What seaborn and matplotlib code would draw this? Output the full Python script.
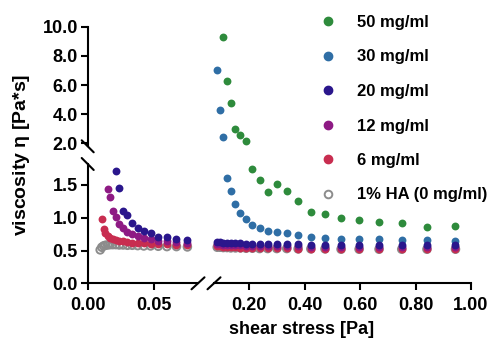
import numpy as np
import pandas as pd
import seaborn as sns
import matplotlib.pyplot as plt
import matplotlib.ticker as ticker
from matplotlib.lines import Line2D

# shear stress steps [Pa] (shared by all samples)
stress = [0.0094, 0.0106, 0.0119, 0.0133, 0.0150, 0.0168, 0.0188, 0.0211, 0.0237, 0.0266,
          0.0299, 0.0335, 0.0376, 0.0422, 0.0473, 0.0531, 0.0596, 0.0668, 0.0750, 0.0841,
          0.0944, 0.106, 0.119, 0.133, 0.150, 0.168, 0.188, 0.211, 0.237, 0.266,
          0.299, 0.335, 0.376, 0.422, 0.473, 0.531, 0.596, 0.668, 0.750, 0.841, 0.944]

# viscosity [Pa*s], each series covers the last len() stress steps
visc_50 = [9.27, 6.25, 4.75, 2.96, 2.60, 2.18, 1.74, 1.57, 1.39, 1.52,
           1.41, 1.25, 1.09, 1.06, 0.99, 0.96, 0.94, 0.92, 0.855, 0.875]
visc_30 = [7.0, 4.3, 2.45, 1.61, 1.41, 1.21, 1.08, 0.98, 0.89, 0.85, 0.80,
           0.78, 0.76, 0.73, 0.70, 0.69, 0.68, 0.67, 0.67, 0.66, 0.66, 0.65]
visc_20 = [1.72, 1.45, 1.10, 1.04, 0.92, 0.85, 0.80, 0.76, 0.71, 0.70, 0.68, 0.66,
           0.63, 0.625, 0.62, 0.62, 0.615, 0.61, 0.61, 0.605, 0.605, 0.60, 0.60,
           0.60, 0.595, 0.595, 0.59, 0.59, 0.59, 0.59, 0.585, 0.585, 0.585, 0.585]
visc_12 = [1.44, 1.31, 1.11, 1.01, 0.91, 0.84, 0.79, 0.75, 0.72, 0.69, 0.67, 0.65,
           0.64, 0.63, 0.62,
           0.60, 0.595, 0.59, 0.59, 0.585, 0.58, 0.58, 0.575, 0.575, 0.57, 0.57,
           0.57, 0.565, 0.565, 0.56, 0.56, 0.56, 0.56, 0.555, 0.555, 0.555, 0.555]
visc_6 = [0.98, 0.83, 0.76, 0.72, 0.69, 0.67, 0.66, 0.65, 0.64, 0.63, 0.62, 0.615,
          0.61, 0.605, 0.60, 0.595, 0.59, 0.585,
          0.57, 0.565, 0.56, 0.555, 0.55, 0.55, 0.545, 0.545, 0.54, 0.54, 0.535,
          0.535, 0.535, 0.53, 0.53, 0.53, 0.53, 0.525, 0.525, 0.525, 0.525, 0.525]
visc_0 = [0.51, 0.55, 0.57, 0.58, 0.585, 0.59, 0.59, 0.59, 0.585, 0.585, 0.58, 0.58,
          0.575, 0.57, 0.57, 0.565, 0.56, 0.56, 0.555,
          0.55, 0.55, 0.545, 0.545, 0.54, 0.54, 0.54, 0.535, 0.535, 0.53, 0.53,
          0.53, 0.53, 0.525, 0.525, 0.525, 0.52, 0.52, 0.52, 0.52, 0.52, 0.52]

labels = ["50 mg/ml", "30 mg/ml", "20 mg/ml", "12 mg/ml", "6 mg/ml", "1% HA (0 mg/ml)"]
series = [visc_50, visc_30, visc_20, visc_12, visc_6, visc_0]
colors = ["#2E8B3C", "#2F6EA5", "#2A168C", "#8E1A84", "#C82D50", "#8C8C8C"]

frames = []
for lab, v in zip(labels, series):
    frames.append(pd.DataFrame({"stress": stress[-len(v):], "visc": v, "sample": lab}))
df = pd.concat(frames, ignore_index=True)

sns.set_style("ticks")
plt.rcParams['font.family'] = ['Liberation Sans', 'DejaVu Sans']
plt.rcParams['font.weight'] = 'bold'
plt.rcParams['mathtext.fontset'] = 'custom'
plt.rcParams['mathtext.rm'] = 'Liberation Sans'
plt.rcParams['axes.edgecolor'] = 'black'
plt.rcParams['axes.linewidth'] = 1.5
plt.rcParams['xtick.color'] = 'black'
plt.rcParams['ytick.color'] = 'black'
plt.rcParams['text.color'] = 'black'

W, H = 493, 346
fig = plt.figure(figsize=(W / 100, H / 100), dpi=100)


def px_axes(x0, x1, y0, y1):
    # pixel box measured from the top-left corner
    return fig.add_axes([x0 / W, 1 - y1 / H, (x1 - x0) / W, (y1 - y0) / H])


ax_ll = px_axes(87.7, 198, 164, 283.3)
ax_lr = px_axes(214, 471, 164, 283.3)
ax_ul = px_axes(87.7, 198, 26.7, 146.3)
ax_ur = px_axes(214, 471, 26.7, 146.3)

panels = [
    (ax_ll, (df.stress < 0.08) & (df.visc < 1.9)),
    (ax_lr, (df.stress > 0.08) & (df.visc < 1.9)),
    (ax_ur, (df.stress > 0.08) & (df.visc >= 1.9)),
]
order = [1, 0, 5, 4, 3, 2]
for ax, mask in panels:
    sub = df[mask]
    for i in order:
        d = sub[sub["sample"] == labels[i]]
        if len(d) == 0:
            continue
        if i == 5:
            sns.scatterplot(data=d, x="stress", y="visc", ax=ax, s=30, facecolor="none",
                            edgecolor=colors[i], linewidth=1.4, clip_on=False, legend=False)
        else:
            sns.scatterplot(data=d, x="stress", y="visc", ax=ax, s=32, color=colors[i],
                            linewidth=0, clip_on=False, legend=False)

ax_ll.set_xlim(0, 0.083)
ax_lr.set_xlim(0.0725, 1.0)
ax_ul.set_xlim(0, 0.083)
ax_ur.set_xlim(0.0725, 1.0)
ax_ll.set_ylim(0, 1.82)
ax_lr.set_ylim(0, 1.82)
ax_ul.set_ylim(1.8, 10)
ax_ur.set_ylim(1.8, 10)

ax_ll.set_yticks([0, 0.5, 1.0, 1.5])
ax_ul.set_yticks([2, 4, 6, 8, 10])
ax_ll.set_xticks([0, 0.05])
ax_lr.set_xticks([0.2, 0.4, 0.6, 0.8, 1.0])
ax_ll.yaxis.set_major_formatter(ticker.FormatStrFormatter('%.1f'))
ax_ul.yaxis.set_major_formatter(ticker.FormatStrFormatter('%.1f'))
ax_ll.xaxis.set_major_formatter(ticker.FormatStrFormatter('%.2f'))
ax_lr.xaxis.set_major_formatter(ticker.FormatStrFormatter('%.2f'))

for ax in [ax_ll, ax_lr, ax_ul, ax_ur]:
    ax.set_facecolor('none')
    ax.set_xlabel('')
    ax.set_ylabel('')
    ax.spines['top'].set_visible(False)
    ax.spines['right'].set_visible(False)
    ax.tick_params(length=5, width=1.5, labelsize=13, pad=2)
ax_ll.tick_params(axis='x', pad=5)
ax_lr.tick_params(axis='x', pad=5)
ax_lr.spines['left'].set_visible(False)
ax_lr.tick_params(axis='y', left=False, labelleft=False)
ax_ul.spines['bottom'].set_visible(False)
ax_ul.tick_params(axis='x', bottom=False, labelbottom=False)
ax_ur.spines['left'].set_visible(False)
ax_ur.spines['bottom'].set_visible(False)
ax_ur.tick_params(left=False, bottom=False, labelleft=False, labelbottom=False)

# axis break marks
def brk(xc, yc, dx, dy):
    fig.add_artist(Line2D([(xc - dx) / W, (xc + dx) / W], [1 - (yc - dy) / H, 1 - (yc + dy) / H],
                          transform=fig.transFigure, color='black', lw=1.5))

brk(87.7, 146.3, 6, 6)
brk(87.7, 164, 6, 6)
brk(198, 283.3, 6.5, -6)
brk(214, 283.3, 6.5, -6)

fig.text(22 / W, 1 - 155 / H, r'viscosity $\mathrm{\eta}$ [Pa*s]', rotation=90,
         ha='center', va='center', fontsize=14, fontweight='bold')
fig.text(302 / W, 1 - 330 / H, 'shear stress [Pa]', ha='center', va='center',
         fontsize=13, fontweight='bold')

handles = []
for i in range(6):
    if i == 5:
        handles.append(Line2D([], [], ls='', marker='o', markersize=5.5, markerfacecolor='none',
                              markeredgecolor=colors[i], markeredgewidth=1.4))
    else:
        handles.append(Line2D([], [], ls='', marker='o', markersize=6, color=colors[i]))
fig.legend(handles, labels, loc='upper left', bbox_to_anchor=(320 / W, 1 - 15 / H),
           frameon=False, borderpad=0, borderaxespad=0, handlelength=1, handletextpad=1.2,
           labelspacing=1.17, prop=dict(size=12, weight='bold'))

plt.savefig("out.png", dpi=100)
